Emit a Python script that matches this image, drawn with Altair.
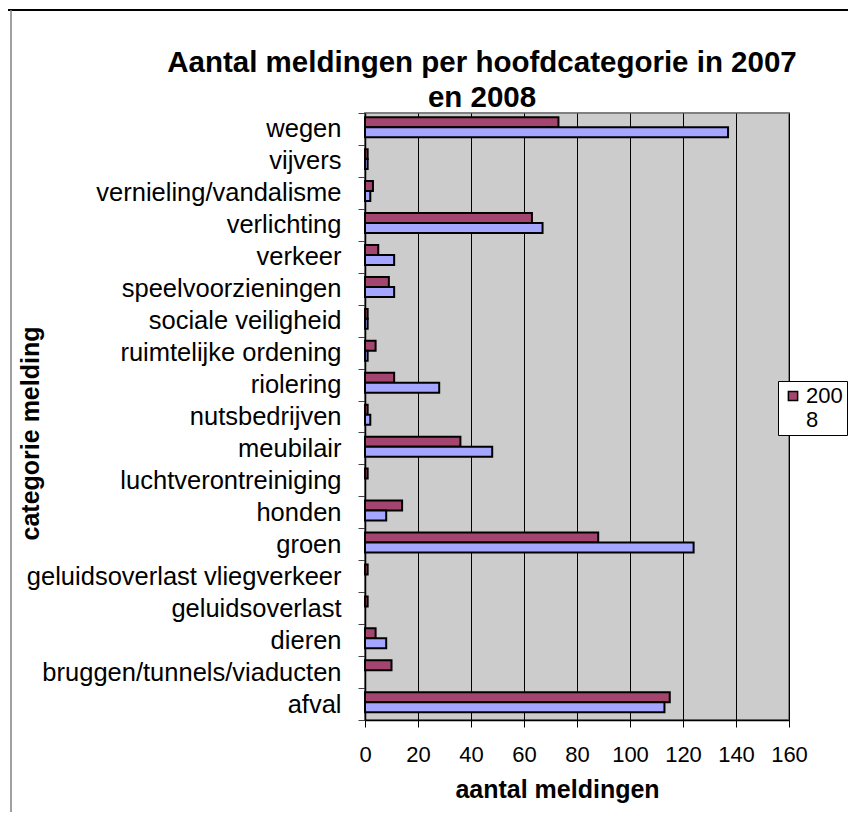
import altair as alt
import pandas as pd

# ---- data ----
categorieen = [
    "wegen", "vijvers", "vernieling/vandalisme", "verlichting", "verkeer",
    "speelvoorzieningen", "sociale veiligheid", "ruimtelijke ordening",
    "riolering", "nutsbedrijven", "meubilair", "luchtverontreiniging",
    "honden", "groen", "geluidsoverlast vliegverkeer", "geluidsoverlast",
    "dieren", "bruggen/tunnels/viaducten", "afval",
]
meldingen_2008 = [73, 1, 3, 63, 5, 9, 1, 4, 11, 1, 36, 1, 14, 88, 1, 1, 4, 10, 115]
meldingen_2007 = [137, 1, 2, 67, 11, 11, 1, 1, 28, 2, 48, 0, 8, 124, 0, 0, 8, 0, 113]
jaren = ["2008", "2007"]
kleuren = ["#A3456F", "#A4A6FF"]
x_ticks = [0, 20, 40, 60, 80, 100, 120, 140, 160]
titel = ["Aantal meldingen per hoofdcategorie in 2007", "en 2008"]
x_titel = "aantal meldingen"
y_titel = "categorie melding"

FONT = "Liberation Sans"

rows = []
for c, a, b in zip(categorieen, meldingen_2008, meldingen_2007):
    rows.append({"categorie": c, "jaar": jaren[0], "aantal": a})
    rows.append({"categorie": c, "jaar": jaren[1], "aantal": b})
df = pd.DataFrame(rows)

bars = alt.Chart(df).transform_filter(
    alt.datum.aantal > 0
).mark_bar(stroke="black", strokeWidth=2).encode(
    x=alt.X(
        "aantal:Q",
        scale=alt.Scale(domain=[0, 160], nice=False),
        axis=alt.Axis(
            values=x_ticks, title=x_titel, grid=True, gridColor="black",
            gridWidth=1, gridOpacity=1, domainColor="black", domainWidth=1.5,
            tickColor="black", tickSize=7, labelFontSize=22, labelPadding=17,
            labelOverlap=False, labelFlush=False,
            titleFontSize=25, titleFontWeight="bold", titleX=192, titleY=77,
            titleBaseline="alphabetic", titleAlign="center",
        ),
    ),
    y=alt.Y(
        "categorie:N", sort=categorieen,
        scale=alt.Scale(domain=categorieen, paddingInner=0, paddingOuter=0),
        axis=alt.Axis(
            title=y_titel, tickBand="extent", domainColor="black", domainWidth=1.5,
            tickColor="#444444", tickSize=7, labelFontSize=25.5, labelPadding=17,
            labelLimit=400, labelOverlap=False, titleFontSize=25, titleFontWeight="bold",
            titleAngle=-90, titleX=-335, titleY=320, titleAlign="center",
            titleBaseline="middle",
        ),
    ),
    yOffset=alt.YOffset(
        "jaar:N", sort=jaren,
        scale=alt.Scale(domain=jaren, paddingInner=0, paddingOuter=0.6, align=0.35),
    ),
    color=alt.Color(
        "jaar:N",
        scale=alt.Scale(domain=jaren, range=kleuren),
        legend=alt.Legend(
            values=[jaren[0]], title=None, orient="none", legendX=413, legendY=268,
            fillColor="white", strokeColor="black", padding=4,
            symbolType="square", symbolSize=85, symbolStrokeColor="black",
            symbolStrokeWidth=1.5, symbolOpacity=1, labelFontSize=22,
            labelFont=FONT, labelColor="black", labelOffset=2, labelLimit=200,
            labelExpr="[substring(datum.label, 0, 3), substring(datum.label, 3)]",
        ),
    ),
)

one = pd.DataFrame({"t": [0]})

title_text = alt.Chart(one).mark_text(
    font=FONT, fontSize=29.5, fontWeight="bold", align="center",
    baseline="alphabetic", lineHeight=35, color="black",
).encode(x=alt.value(117), y=alt.value(-41), text=alt.value(titel))

top_line = alt.Chart(one).mark_rule(color="black", strokeWidth=2).encode(
    x=alt.value(-357), x2=alt.value(490), y=alt.value(-103)
)
left_line = alt.Chart(one).mark_rule(color="#808080", strokeWidth=1.5).encode(
    x=alt.value(-354), y=alt.value(-103), y2=alt.value(720)
)

chart = alt.layer(bars, title_text, top_line, left_line).properties(
    width=424, height=607,
    autosize=alt.AutoSizeParams(type="none"),
    padding={"left": 357, "top": 105, "right": 59, "bottom": 92},
).configure_view(
    fill="#CCCCCC", stroke="#808080", strokeWidth=2
).configure_axis(
    labelFont=FONT, titleFont=FONT, labelColor="black", titleColor="black"
)

chart.save("out.html", embed_options={"renderer": "svg", "actions": False})
